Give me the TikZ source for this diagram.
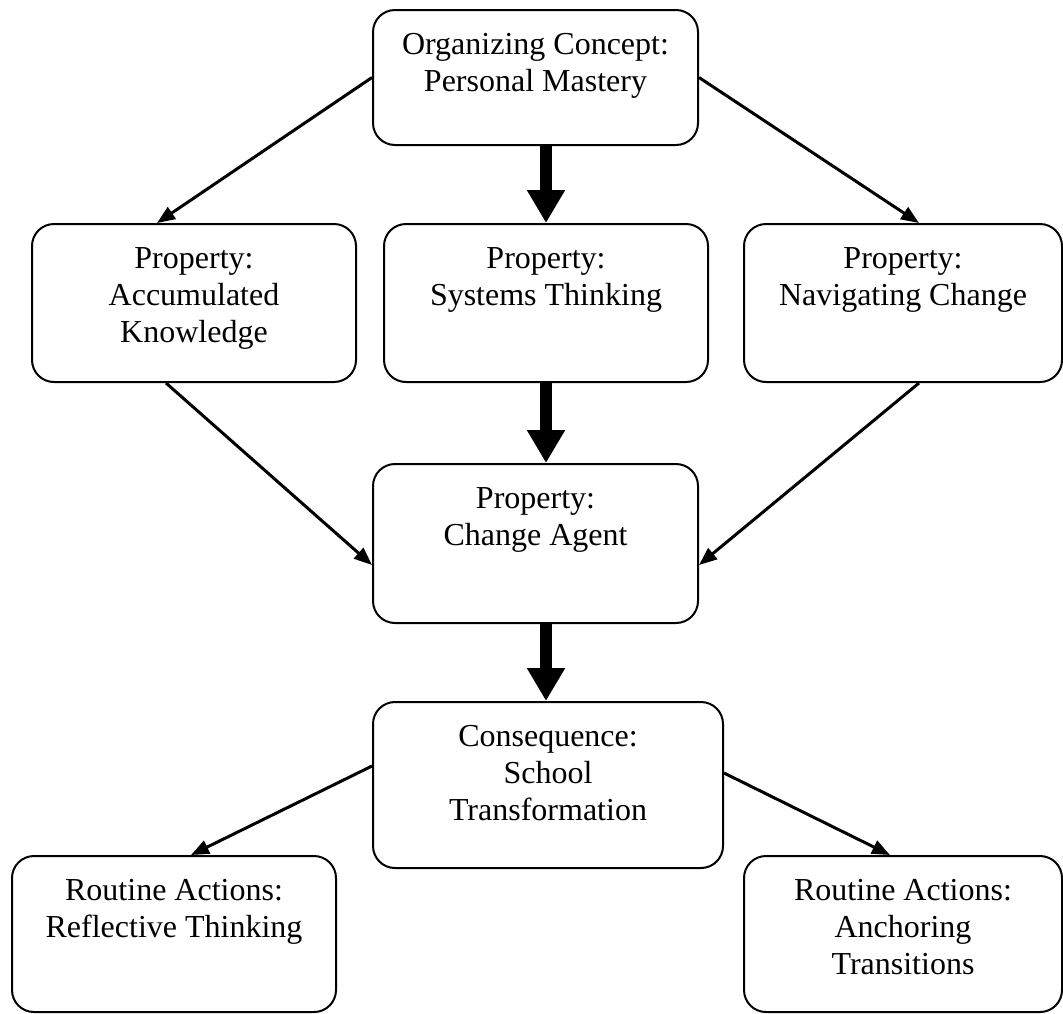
\documentclass[tikz,border=0pt]{standalone}
\usepackage{fontspec}
\setmainfont{Liberation Serif}
\usepackage{tikz}
\usetikzlibrary{arrows.meta,calc}

\begin{document}
\begin{tikzpicture}[x=0.5pt, y=-0.5pt,
		box/.style={draw, line width=1pt, rounded corners=11pt, inner sep=0pt},
		txt/.style={anchor=north, align=center, inner sep=0pt, font=\fontsize{16}{18.5}\selectfont},
		arr/.style={line width=1.5pt, -{Triangle[length=9pt,width=7pt]}},
		bigarr/.style={line width=5.6pt, -{Triangle[length=16.5pt,width=18pt]}}]
				
				\useasboundingbox (0,0) rectangle (1063,1013);
				
				% organizing concept
				\node[box, minimum width=162.5pt, minimum height=67.5pt] (oc) at (535.5, 77.5) {};
				\node[txt] (oct) at ($(oc.north)+(0,24)$) {Organizing Concept:\\Personal Mastery};
				
				% properties
				\node[box, minimum width=162pt, minimum height=79pt] (ak) at (194, 303) {};
				\node[txt] (akt) at ($(ak.north)+(0,24)$) {Property:\\Accumulated\\Knowledge};
				\node[box, minimum width=162pt, minimum height=79pt] (st) at (546, 303) {};
				\node[txt] (stt) at ($(st.north)+(0,24)$) {Property:\\Systems Thinking};
				\node[box, minimum width=159pt, minimum height=79pt] (nc) at (903, 303) {};
				\node[txt] (nct) at ($(nc.north)+(0,24)$) {Property:\\Navigating Change};
				
				\node[box, minimum width=162.5pt, minimum height=79.5pt] (ca) at (535.5, 543.5) {};
				\node[txt] (cat) at ($(ca.north)+(0,24)$) {Property:\\Change Agent};
				
				% consequence
				\node[box, minimum width=175pt, minimum height=83pt] (cs) at (548, 785) {};
				\node[txt] (cst) at ($(cs.north)+(0,24)$) {Consequence:\\School\\Transformation};
				
				% routine actions
				\node[box, minimum width=162pt, minimum height=78pt] (rt) at (174, 934) {};
				\node[txt] (rtt) at ($(rt.north)+(0,24)$) {Routine Actions:\\Reflective Thinking};
				\node[box, minimum width=159pt, minimum height=78pt] (at) at (903, 934) {};
				\node[txt] (att) at ($(at.north)+(0,24)$) {Routine Actions:\\Anchoring\\Transitions};
				
				% arrows
				\draw[arr] (oc.west) -- ($(ak.north)+(-37,0)$);
				\draw[arr] (oc.east) -- ($(nc.north)+(16,0)$);
				\draw[bigarr] (st.north |- oc.south) -- (st.north);
				\draw[bigarr] (st.south) -- (st.south |- ca.north);
				\draw[arr] ($(ak.south)+(-28,0)$) -- ($(ca.west)+(0,21.5)$);
				\draw[arr] ($(nc.south)+(16,0)$) -- ($(ca.east)+(0,21.5)$);
				\draw[bigarr] (st.south |- ca.south) -- (st.south |- cs.north);
				\draw[arr] ($(cs.west)+(0,-19)$) -- ($(rt.north)+(17,0)$);
				\draw[arr] ($(cs.east)+(0,-12)$) -- ($(at.north)+(-13,0)$);
				
			\end{tikzpicture}
\end{document}
